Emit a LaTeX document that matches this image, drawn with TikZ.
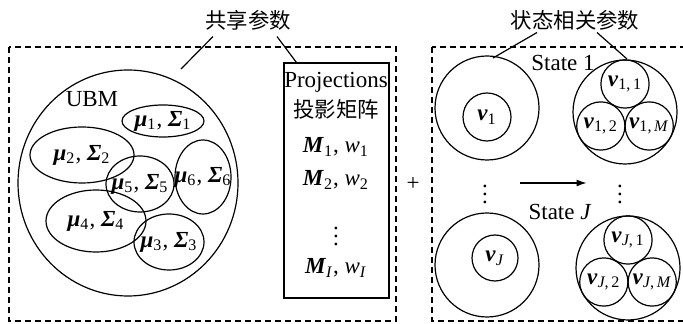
\documentclass[tikz,border=0pt]{standalone}
\usepackage{fontspec}
\setmainfont{Liberation Serif}
\newfontfamily\cjk{Noto Sans CJK SC}[Scale=0.93]
\usetikzlibrary{shapes.geometric,arrows.meta,calc,positioning}

\newcommand{\boldit}[1]{\textbf{\textit{#1}}}
\newcommand{\musig}[1]{\boldit{μ}\textsubscript{#1}, \boldit{Σ}\textsubscript{#1}}
\newcommand{\vsub}[1]{\boldit{v}\textsubscript{#1}}

\begin{document}
\begin{tikzpicture}[
    x=0.5pt, y=-0.5pt,
    font=\fontsize{11.5}{13}\selectfont,
    line width=0.6pt,
    gauss/.style={ellipse, draw, inner sep=0pt},
    ring/.style={circle, draw, inner sep=0pt},
    frame/.style={draw, dash pattern=on 3pt off 2pt},
    lbl/.style={inner sep=0pt}
]
    \useasboundingbox (0,0) rectangle (683,324);
    \clip (0,0) rectangle (683,324);

    % dashed frames
    \draw[frame] (9,47) rectangle (396,321);
    \draw[frame] (432,47) rectangle (700,321);

    % titles
    \node[lbl] (shared) at (248,20) {\cjk 共享参数};
    \node[lbl] (state) at (575,20) {\cjk 状态相关参数};

    % UBM and its Gaussians
    \node[gauss, minimum width=110pt, minimum height=113pt] (ubm) at (128,183) {};
    \node[lbl] (ubmlbl) at (92,99) {UBM};
    \node[gauss, minimum width=41pt, minimum height=16pt, label=center:{\musig{1}}] (g1) at (163,121) {};
    \node[gauss, minimum width=52pt, minimum height=28pt, label=center:{\musig{2}}] (g2) at (82,155) {};
    \node[gauss, minimum width=34pt, minimum height=28pt, label=center:{\musig{5}}] (g5) at (140,184) {};
    \node[gauss, minimum width=28pt, minimum height=37pt, label=center:{\musig{6}}] (g6) at (203,177) {};
    \node[gauss, minimum width=50pt, minimum height=31pt, label=center:{\musig{4}}] (g4) at (96,221) {};
    \node[gauss, minimum width=35pt, minimum height=28pt, label=center:{\musig{3}}] (g3) at (169,242) {};

    % projections
    \node[draw, minimum width=52.5pt, minimum height=117.5pt] (proj) at (336.5,180.5) {};
    \node[lbl] (ptitle) at (336,82) {Projections};
    \node[lbl] (pcjk) at (336,109) {\cjk 投影矩阵};
    \node[lbl] (m1) at (336,147) {\boldit{M}\textsubscript{1}, \textit{w}\textsubscript{1}};
    \node[lbl] (m2) at (336,180) {\boldit{M}\textsubscript{2}, \textit{w}\textsubscript{2}};
    \node[lbl] (mdots) at (336,230) {$\vdots$};
    \node[lbl] (mi) at (336,268) {\boldit{M}\textsubscript{\textit{I}}, \textit{w}\textsubscript{\textit{I}}};

    \node[lbl] (plus) at (413,184) {+};

    % states
    \node[ring, minimum size=52pt] (s1) at (487,108) {};
    \node[ring, minimum size=24pt] (v1) at (487,117) {\vsub{1}};
    \node[ring, minimum size=52pt] (sj) at (487,265) {};
    \node[ring, minimum size=23pt] (vj) at (495,258) {\vsub{\textit{J}}};

    \node[lbl] (st1) at (563,63) {State 1};
    \node[lbl] (stj) at (560,212) {State \textit{J}};

    \node[ring, minimum size=52pt] (s1m) at (625,112) {};
    \node[ring, minimum size=24.1pt] (v11) at ($(s1m)+(0,-28)$) {\vsub{1,\,1}};
    \node[ring, minimum size=24.1pt] (v12) at ($(s1m)+(-24.2,14)$) {\vsub{1,\,2}};
    \node[ring, minimum size=24.1pt] (v1m) at ($(s1m)+(24.2,14)$) {\vsub{1,\,\textit{M}}};

    \node[ring, minimum size=52pt] (sjm) at (628,268) {};
    \node[ring, minimum size=24.1pt] (vj1) at ($(sjm)+(0,-28)$) {\vsub{\textit{J},\,1}};
    \node[ring, minimum size=24.1pt] (vj2) at ($(sjm)+(-24.2,14)$) {\vsub{\textit{J},\,2}};
    \node[ring, minimum size=24.1pt] (vjm) at ($(sjm)+(24.2,14)$) {\vsub{\textit{J},\,\textit{M}}};

    \node[lbl] (dotsl) at (485,188) {$\vdots$};
    \node[lbl] (dotsr) at (620,188) {$\vdots$};

    % connectors
    \coordinate (c1) at (181,69);
    \coordinate (c2) at (493,58);
    \coordinate (c3) at (627,59);
    \draw ($(shared.south)+(-35,6)$) -- (c1);
    \draw ($(shared.south)+(29,6)$) -- ($(proj.north west)+(13,0)$);
    \draw ($(state.south)+(-38,2)$) -- (c2);
    \draw ($(state.south)+(22,2)$) -- (c3);
    \draw[-{Latex[length=5pt,width=3.5pt]}, shorten <=16pt, shorten >=15pt]
        ([yshift=2.5pt]dotsl.east) -- ([yshift=2.5pt]dotsr.west);
\end{tikzpicture}
\end{document}
